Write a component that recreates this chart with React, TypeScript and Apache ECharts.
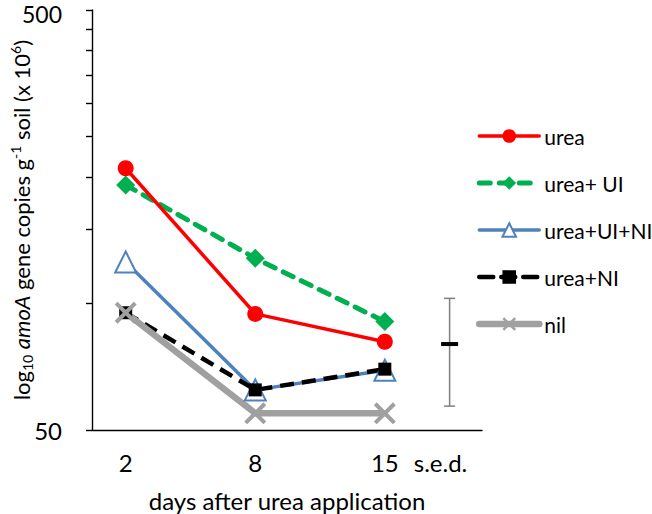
import React, { useEffect, useRef } from 'react';
import * as echarts from 'echarts';

// ---- data ----
const days = ['2', '8', '15'];
const dayPos = [0, 1, 2];
const seriesNames = ['urea', 'urea+ UI', 'urea+UI+NI', 'urea+NI', 'nil'];
const urea = [210, 94.5, 81.1];
const ureaUI = [191.6, 128.2, 90.6];
const ureaUINI = [125.6, 62.3, 69.4];
const ureaNI = [95.1, 62.3, 69.8];
const nil = [95.1, 54.8, 54.8];
const yTickValues = [50, 100, 150, 200, 250, 300, 350, 400, 450, 500];
const yLabelValues = [50, 500];
const sedLabel = 's.e.d.';
const sedLabelPos = 2.43;
const sedPos = 2.5;
const sedLow = 57.0;
const sedMid = 80.1;
const sedHigh = 102.9;

const FONT = 'Lato, "Open Sans", sans-serif';
const AX_FS = 24;
const NAME_FS = 22;
const LEG_FS = 21;
const X_PATH = 'path://M0,1.3 L1.3,0 L5,3.7 L8.7,0 L10,1.3 L6.3,5 L10,8.7 L8.7,10 L5,6.3 L1.3,10 L0,8.7 L3.7,5 Z';

const colors = ['#ff0000', '#00b050', '#4f81bd', '#000000', '#a0a0a0'];
const widths = [3.5, 5, 3.5, 4.5, 6.5];

function pairs(vals: number[]) {
  return vals.map((v, i) => [dayPos[i], v]);
}

export default function App() {
  const ref = useRef<HTMLDivElement>(null);
  useEffect(() => {
    if (!ref.current) return;
    const chart = echarts.init(ref.current, undefined, { renderer: 'svg' });
    const xLabelPos = [...dayPos, sedLabelPos];
    const xLabelText = [...days, sedLabel];
    const yMax = yLabelValues[yLabelValues.length - 1];
    const dashes: any[] = ['solid', [11, 9], 'solid', [14, 8], 'solid'];
    const option: any = {
      animation: false,
      backgroundColor: '#fff',
      textStyle: { fontFamily: FONT },
      grid: { left: 92, right: 170, top: 10, bottom: 84, containLabel: false, outerBoundsMode: 'none' },
      legend: {
        data: seriesNames.map((n, i) => ({
          name: n,
          lineStyle: { width: widths[i], color: colors[i], type: dashes[i], cap: 'round' },
        })),
        orient: 'vertical',
        left: 476,
        top: 124,
        padding: 0,
        itemWidth: 60,
        itemHeight: 17,
        itemGap: 23,
        textStyle: { fontFamily: FONT, fontSize: LEG_FS, color: '#000', lineHeight: 24 },
      },
      xAxis: {
        type: 'value',
        min: -0.26,
        max: 2.75,
        splitLine: { show: false },
        axisLine: { show: true, onZero: false, lineStyle: { color: '#000', width: 1.4 } },
        axisTick: { show: false },
        axisLabel: {
          customValues: xLabelPos,
          formatter: (v: number) => {
            let best = 0;
            xLabelPos.forEach((p, i) => {
              if (Math.abs(p - v) < Math.abs(xLabelPos[best] - v)) best = i;
            });
            return xLabelText[best];
          },
          margin: 20,
          fontSize: AX_FS,
          fontFamily: FONT,
          color: '#000',
        },
        name: 'days after urea application',
        nameLocation: 'middle',
        nameGap: 57,
        nameMoveOverlap: false,
        nameTextStyle: { fontSize: AX_FS, fontFamily: FONT, color: '#000', lineHeight: 26 },
      },
      yAxis: {
        type: 'log',
        logBase: 10,
        min: 50,
        max: 500,
        splitLine: { show: false },
        minorTick: { show: false },
        axisLine: { show: true, onZero: false, lineStyle: { color: '#000', width: 1.4 } },
        axisTick: { show: true, inside: false, length: 6, customValues: yTickValues, lineStyle: { color: '#000', width: 1.4 } },
        axisLabel: {
          customValues: yLabelValues,
          formatter: (v: number) => {
            const s = String(Math.round(v));
            return Math.round(v) === yMax ? '{t|' + s + '}' : s;
          },
          margin: 30,
          fontSize: AX_FS,
          lineHeight: 20,
          fontFamily: FONT,
          color: '#000',
          rich: {
            t: { fontSize: 23, fontFamily: FONT, color: '#000', lineHeight: 18, padding: [7, 0, 0, 0] },
          },
        },
        name: '{n|log}{s|10}{n| }{i|amoA}{n| gene copies g}{p|-1}{n| soil (x 10}{p|6}{n|)}',
        nameLocation: 'middle',
        nameGap: 58,
        nameMoveOverlap: false,
        nameRotate: 90,
        nameTextStyle: {
          fontSize: NAME_FS,
          fontFamily: FONT,
          color: '#000',
          rich: {
            n: { fontSize: NAME_FS, fontFamily: FONT, color: '#000', lineHeight: 26, verticalAlign: 'middle' },
            i: { fontSize: NAME_FS, fontFamily: FONT, color: '#000', fontStyle: 'italic', lineHeight: 26, verticalAlign: 'middle' },
            s: { fontSize: 14, fontFamily: FONT, color: '#000', lineHeight: 14, verticalAlign: 'bottom' },
            p: { fontSize: 14, fontFamily: FONT, color: '#000', lineHeight: 14, verticalAlign: 'top' },
          },
        },
      },
      series: [
        {
          name: seriesNames[0], type: 'line', data: pairs(urea),
          symbol: 'circle', symbolSize: 16,
          lineStyle: { color: colors[0], width: widths[0] },
          itemStyle: { color: colors[0] },
          z: 3,
        },
        {
          name: seriesNames[1], type: 'line', data: pairs(ureaUI),
          symbol: 'diamond', symbolSize: 19,
          lineStyle: { color: colors[1], width: widths[1], type: dashes[1], cap: 'round' },
          itemStyle: { color: colors[1] },
          z: 2,
        },
        {
          name: seriesNames[2], type: 'line', data: pairs(ureaUINI),
          symbol: 'emptyTriangle', symbolSize: 21,
          lineStyle: { color: colors[2], width: widths[2] },
          itemStyle: { color: colors[2], borderWidth: 3 },
          z: 2,
        },
        {
          name: seriesNames[3], type: 'line', data: pairs(ureaNI),
          symbol: 'rect', symbolSize: 13,
          lineStyle: { color: colors[3], width: widths[3], type: dashes[3] },
          itemStyle: { color: colors[3] },
          z: 2,
        },
        {
          name: seriesNames[4], type: 'line', data: pairs(nil),
          symbol: X_PATH, symbolSize: 22,
          lineStyle: { color: colors[4], width: widths[4] },
          itemStyle: { color: colors[4] },
          z: 2,
        },
        {
          name: sedLabel,
          type: 'custom',
          data: [[sedPos, sedLow, sedMid, sedHigh]],
          encode: { x: 0, y: [1, 2, 3] },
          renderItem: (params: any, api: any) => {
            const x = api.value(0);
            const lo = api.coord([x, api.value(1)]);
            const mid = api.coord([x, api.value(2)]);
            const hi = api.coord([x, api.value(3)]);
            const grey = { stroke: '#7f7f7f', lineWidth: 1.5 };
            return {
              type: 'group',
              children: [
                { type: 'line', shape: { x1: lo[0], y1: lo[1], x2: hi[0], y2: hi[1] }, style: grey },
                { type: 'line', shape: { x1: lo[0] - 5.5, y1: lo[1], x2: lo[0] + 5.5, y2: lo[1] }, style: grey },
                { type: 'line', shape: { x1: hi[0] - 5.5, y1: hi[1], x2: hi[0] + 5.5, y2: hi[1] }, style: grey },
                { type: 'line', shape: { x1: mid[0] - 8.5, y1: mid[1], x2: mid[0] + 8.5, y2: mid[1] }, style: { stroke: '#000', lineWidth: 4 } },
              ],
            };
          },
          z: 1,
        },
      ],
    };
    chart.setOption(option);
    return () => chart.dispose();
  }, []);
  return <div ref={ref} style={{ width: 652, height: 514, position: 'absolute', left: 0, top: 0 }} />;
}
